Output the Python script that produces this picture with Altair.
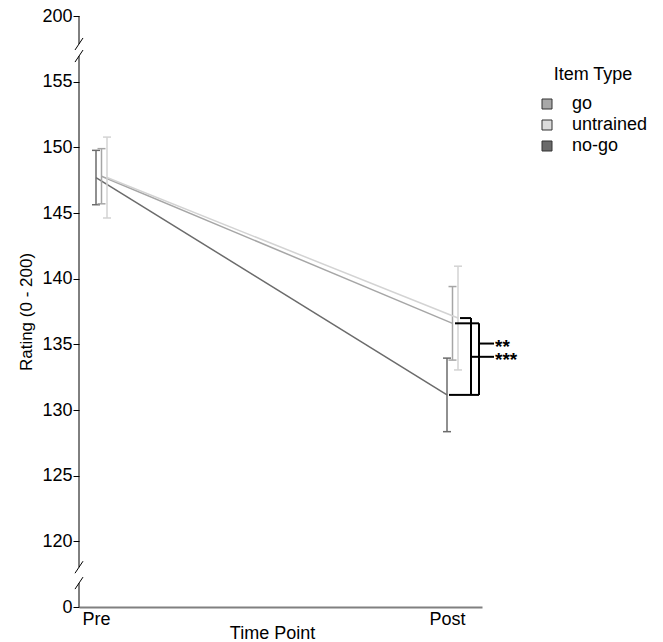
import altair as alt
import pandas as pd

# ---- data ----
time_points = ["Pre", "Post"]
series = ["go", "untrained", "no-go"]
mean_go = [147.8, 136.6]
mean_untrained = [147.7, 137.0]
mean_nogo = [147.7, 131.15]
err_go = [2.1, 2.8]
err_untrained = [3.08, 3.95]
err_nogo = [2.07, 2.8]

# broken y axis: 0 and 200 shown at the ends of the 120-155 section
y_tick_values = [115, 120, 125, 130, 135, 140, 145, 150, 155, 160]
y_break_labels = {115: "0", 160: "200"}
axis_segments = [(160, 157.87), (156.95, 118.03), (116.82, 115)]
break_marks = [157.87, 156.95, 118.03, 116.82]

sig_labels = ["**", "***"]
sig_y = [135.06, 134.05]

# ---- styles ----
line_colors = {"go": "#a6a6a6", "untrained": "#d3d3d3", "no-go": "#6b6b6b"}
legend_colors = {"go": "#a8a8a8", "untrained": "#dcdcdc", "no-go": "#6a6a6a"}
dodge = {"no-go": 0, "go": 5.5, "untrained": 11}
W, H = 403, 591
FONT = "Liberation Sans"

means = {"go": mean_go, "untrained": mean_untrained, "no-go": mean_nogo}
errs = {"go": err_go, "untrained": err_untrained, "no-go": err_nogo}
rows = []
for s in series:
    for i, tp in enumerate(time_points):
        m, e = means[s][i], errs[s][i]
        rows.append({"series": s, "time": tp, "t": i, "mean": m, "lo": m - e, "hi": m + e})
df = pd.DataFrame(rows)

label_expr = " : ".join(
    [f"datum.value == {k} ? '{v}'" for k, v in y_break_labels.items()]
) + " : datum.value"

x_scale = alt.Scale(domain=[-17 / 351, 1 + 35 / 351], nice=False, zero=False)
y_scale = alt.Scale(domain=[115, 160], nice=False, zero=False)
x_axis = alt.Axis(
    values=[0, 1],
    labelExpr="datum.value == 0 ? 'Pre' : 'Post'",
    ticks=False, grid=False, domainColor="#808080", domainWidth=2,
    labelFontSize=18, labelPadding=3, labelColor="#000",
    title="Time Point", titleFontSize=18, titleFontWeight="normal", titleColor="#000",
    titleBaseline="top", titleY=17, titleX=193,
)
y_axis = alt.Axis(
    values=y_tick_values, labelExpr=label_expr, domain=False, grid=False,
    tickColor="#000", tickSize=6, tickWidth=1, labelFontSize=18, labelPadding=1,
    labelColor="#000", title="Rating (0 - 200)", titleFontSize=17,
    titleFontWeight="normal", titleColor="#000", titlePadding=6,
)


def X(field="t"):
    return alt.X(f"{field}:Q", scale=x_scale, axis=x_axis)


def Y(field):
    return alt.Y(f"{field}:Q", scale=y_scale, axis=y_axis)


layers = []

# y axis line with breaks
seg_df = pd.DataFrame({"a": [a for a, b in axis_segments], "b": [b for a, b in axis_segments]})
layers.append(
    alt.Chart(seg_df).mark_rule(color="#000", strokeWidth=1).encode(
        x=alt.value(0), y=Y("a"), y2="b")
)
brk_df = pd.DataFrame({"v": break_marks})
layers.append(
    alt.Chart(brk_df).mark_rule(color="#000", strokeWidth=1, xOffset=-4, x2Offset=4,
                                yOffset=6, y2Offset=-6).encode(
        x=alt.value(0), x2=alt.value(0), y=Y("v"), y2="v")
)

# series
for s in ["no-go", "go", "untrained"]:
    d = dodge[s]
    c = line_colors[s]
    base = alt.Chart(df[df.series == s])
    layers.append(base.mark_line(color=c, strokeWidth=1.5, xOffset=d).encode(x=X(), y=Y("mean")))
    layers.append(base.mark_rule(color=c, strokeWidth=1.5, xOffset=d).encode(x=X(), y=Y("lo"), y2="hi"))
    for f in ["lo", "hi"]:
        layers.append(
            base.mark_rule(color=c, strokeWidth=1.5, xOffset=d - 4, x2Offset=d + 4).encode(
                x=X(), x2="t", y=Y(f))
        )

# legend layer (invisible marks, provides the fill legend)
layers.append(
    alt.Chart(df).mark_point(shape="square", filled=True, size=0, opacity=1).encode(
        x=X(), y=Y("mean"),
        fill=alt.Fill("series:N",
                      scale=alt.Scale(domain=series, range=[legend_colors[s] for s in series]),
                      legend=alt.Legend(
                          title="Item Type", orient="none", legendX=459, legendY=50,
                          symbolType="square", symbolSize=100, symbolStrokeColor="#333",
                          symbolStrokeWidth=1, symbolOpacity=1, labelFontSize=18,
                          titleFontSize=18, titleFontWeight="normal", labelOffset=16,
                          rowPadding=3, titlePadding=11, titleAnchor="middle",
                          labelColor="#000", titleColor="#000", padding=0)))
)

# significance brackets (at Post)
post = 1
m_go, m_un, m_ng = mean_go[1], mean_untrained[1], mean_nogo[1]


def hrule(yv, x0, x1):
    return alt.Chart(pd.DataFrame({"t": [post], "y": [yv]})).mark_rule(
        color="#000", strokeWidth=2, xOffset=x0, x2Offset=x1).encode(x=X(), x2="t", y=Y("y"))


def vrule(y0, y1, xo):
    return alt.Chart(pd.DataFrame({"t": [post], "a": [y0], "b": [y1]})).mark_rule(
        color="#000", strokeWidth=2, xOffset=xo).encode(x=X(), y=Y("a"), y2="b")


layers += [
    hrule(m_un, 13, 24), vrule(m_un, m_ng, 24),
    hrule(m_go, 8, 32), vrule(m_go, m_ng, 32),
    hrule(m_ng, 2, 32),
    hrule(sig_y[0], 32, 47), hrule(sig_y[1], 24, 47),
]
sig_df = pd.DataFrame({"t": [post, post], "y": sig_y, "label": sig_labels})
layers.append(
    alt.Chart(sig_df).mark_text(align="left", baseline="middle", fontSize=19, fontWeight="bold",
                                dx=48, dy=3, color="#000", font=FONT).encode(
        x=X(), y=Y("y"), text="label:N")
)

chart = alt.layer(*layers).properties(
    width=W, height=H,
    autosize=alt.AutoSizeParams(type="none"),
    padding={"left": 79, "top": 16, "right": 181, "bottom": 35},
).configure(font=FONT).configure_view(stroke=None)

chart.save("out.html", embed_options={"renderer": "svg", "actions": False})
